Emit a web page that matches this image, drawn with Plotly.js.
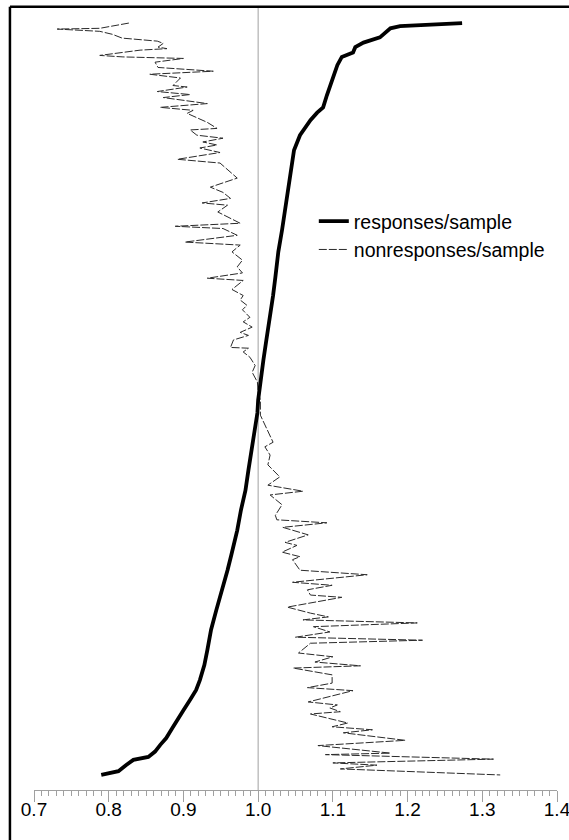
<!DOCTYPE html>
<html>
<head>
<meta charset="utf-8">
<script src="https://cdn.plot.ly/plotly-3.0.1.min.js"></script>
<style>
html,body{margin:0;padding:0;background:#fff;}
#chart{width:569px;height:840px;}
</style>
</head>
<body>
<div id="chart"></div>
<script>
// responses/sample : ratio (x) by cumulative position (y, 0-100)
const respY = [0, 0.5, 1.3, 2.0, 2.4, 3.1, 4.0, 4.9, 6.2, 7.6, 8.6, 10.0, 11.3, 12.6, 14.6, 16.6, 19.3, 21.9, 24.6, 27.2, 29.2, 32.5, 35.2, 37.8, 40.5, 43.6, 45.8, 48.1, 49.8, 52.5, 55.1, 57.8, 60.8, 63.7, 66.1, 69.5, 72.4, 75.0, 77.7, 80.3, 83.0, 85.0, 87.0, 88.0, 88.7, 90.3, 91.4, 92.7, 94.3, 95.4, 96.0, 96.7, 97.3, 98.0, 99.2, 99.5, 99.9];
const respX = [0.790, 0.813, 0.823, 0.833, 0.853, 0.862, 0.869, 0.877, 0.885, 0.893, 0.900, 0.909, 0.917, 0.922, 0.928, 0.932, 0.937, 0.944, 0.952, 0.959, 0.964, 0.972, 0.977, 0.983, 0.987, 0.992, 0.996, 0.999, 1.000, 1.003, 1.007, 1.011, 1.016, 1.020, 1.023, 1.027, 1.032, 1.036, 1.040, 1.044, 1.048, 1.056, 1.070, 1.079, 1.087, 1.092, 1.096, 1.100, 1.106, 1.112, 1.127, 1.130, 1.141, 1.163, 1.177, 1.190, 1.273];

// nonresponses/sample
const nonY = [99.9, 99.2, 99.1, 98.8, 98.4, 97.9, 97.5, 97.2, 96.7, 96.5, 96.3, 95.6, 95.4, 95.2, 94.7, 94.0, 93.5, 93.1, 92.6, 91.6, 91.4, 90.8, 90.4, 90.0, 89.2, 88.7, 88.3, 87.9, 86.7, 85.9, 85.7, 85.0, 84.6, 84.1, 83.7, 83.3, 82.7, 81.8, 81.3, 79.3, 78.1, 77.4, 76.6, 76.0, 75.7, 74.8, 73.3, 72.9, 72.6, 71.7, 70.8, 70.4, 69.5, 68.4, 67.5, 66.7, 66.0, 65.7, 64.5, 63.7, 63.1, 62.4, 61.8, 60.8, 60.2, 59.5, 58.8, 58.4, 57.8, 56.8, 56.7, 56.2, 55.5, 54.4, 53.5, 52.2, 50.9, 49.8, 47.8, 46.5, 44.2, 43.6, 42.5, 41.2, 39.6, 38.5, 37.7, 37.2, 35.9, 34.5, 33.9, 33.5, 32.9, 31.9, 30.9, 30.5, 29.6, 29.0, 28.6, 27.2, 26.6, 25.6, 25.2, 24.6, 23.9, 23.6, 22.3, 21.5, 21.0, 20.6, 20.2, 19.7, 19.0, 18.3, 17.9, 17.5, 16.2, 15.7, 15.0, 14.5, 14.2, 13.3, 12.2, 11.6, 11.2, 9.7, 9.3, 8.9, 8.4, 8.1, 6.9, 6.4, 6.0, 5.6, 4.6, 3.9, 2.9, 2.7, 2.1, 1.6, 1.3, 0.8, 0];
const nonX = [0.827, 0.788, 0.731, 0.788, 0.805, 0.818, 0.865, 0.873, 0.866, 0.878, 0.842, 0.788, 0.819, 0.900, 0.862, 0.866, 0.940, 0.855, 0.896, 0.886, 0.905, 0.865, 0.909, 0.873, 0.932, 0.869, 0.913, 0.905, 0.932, 0.945, 0.909, 0.918, 0.953, 0.926, 0.945, 0.922, 0.949, 0.892, 0.949, 0.972, 0.936, 0.953, 0.963, 0.925, 0.959, 0.946, 0.976, 0.889, 0.953, 0.972, 0.902, 0.976, 0.965, 0.979, 0.972, 0.979, 0.932, 0.980, 0.965, 0.980, 0.976, 0.985, 0.979, 0.989, 0.980, 0.992, 0.976, 0.987, 0.967, 0.963, 0.987, 0.980, 0.989, 0.996, 0.992, 0.999, 1.000, 1.003, 1.003, 1.009, 1.020, 1.009, 1.016, 1.013, 1.029, 1.013, 1.060, 1.016, 1.032, 1.023, 1.025, 1.092, 1.033, 1.067, 1.036, 1.052, 1.032, 1.056, 1.046, 1.056, 1.146, 1.046, 1.099, 1.066, 1.070, 1.112, 1.039, 1.070, 1.094, 1.060, 1.213, 1.074, 1.096, 1.050, 1.220, 1.070, 1.054, 1.100, 1.076, 1.137, 1.047, 1.099, 1.099, 1.066, 1.127, 1.067, 1.106, 1.096, 1.110, 1.070, 1.120, 1.099, 1.153, 1.114, 1.197, 1.080, 1.177, 1.090, 1.315, 1.100, 1.159, 1.110, 1.324];

const seriesNames = ['responses/sample', 'nonresponses/sample'];
const xTickVals = [0.7, 0.8, 0.9, 1.0, 1.1, 1.2, 1.3, 1.4];
const xTickText = ['0.7', '0.8', '0.9', '1.0', '1.1', '1.2', '1.3', '1.4'];
const xRange = [0.7, 1.4];

const traces = [
  {
    x: nonX, y: nonY, type: 'scatter', mode: 'lines', name: seriesNames[1],
    line: {color: '#2a2a2a', width: 1, dash: '8px,2px'},
    legendrank: 2, hoverinfo: 'skip'
  },
  {
    x: respX, y: respY, type: 'scatter', mode: 'lines', name: seriesNames[0],
    line: {color: '#000000', width: 3.8},
    legendrank: 1, hoverinfo: 'skip'
  },
  // carrier for the tick-mark axis (invisible)
  {
    x: respX, y: respY, xaxis: 'x2', yaxis: 'y', type: 'scatter', mode: 'lines',
    line: {width: 0, color: 'rgba(0,0,0,0)'}, opacity: 0, showlegend: false, hoverinfo: 'skip'
  }
];

const layout = {
  width: 569, height: 840,
  margin: {l: 34, r: 12, t: 8, b: 50},
  paper_bgcolor: '#ffffff', plot_bgcolor: '#ffffff',
  font: {family: '"Liberation Sans", Arial, sans-serif', color: '#000'},
  showlegend: true,
  legend: {
    x: 0.535, y: 0.752, xanchor: 'left', yanchor: 'top',
    font: {size: 19.5, family: '"Liberation Sans", Arial, sans-serif', color: '#000'},
    bgcolor: 'rgba(0,0,0,0)', borderwidth: 0, tracegroupgap: 0, itemwidth: 30
  },
  // labels axis
  xaxis: {
    range: xRange, showgrid: false, zeroline: false, showline: false,
    ticks: '', ticklabelstandoff: 6,
    tickvals: xTickVals, ticktext: xTickText,
    ticklabeloverflow: 'allow',
    tickfont: {size: 19, family: '"Liberation Sans", Arial, sans-serif', color: '#000'},
    fixedrange: true
  },
  // tick-mark axis
  xaxis2: {
    range: xRange, overlaying: 'x', anchor: 'y', side: 'bottom',
    showgrid: false, zeroline: false, showticklabels: false,
    showline: true, linecolor: '#a0a0a0', linewidth: 1,
    ticks: 'outside', ticklen: 11, tickcolor: '#a0a0a0', tickwidth: 1,
    tickvals: xTickVals,
    minor: {dtick: 0.01, tick0: 0.7, ticks: 'outside', ticklen: 5, tickcolor: '#a0a0a0', tickwidth: 1, showgrid: false},
    fixedrange: true
  },
  yaxis: {
    range: [-2, 101.9], visible: false, showgrid: false, zeroline: false, fixedrange: true
  },
  shapes: [
    {type: 'line', xref: 'x', yref: 'paper', x0: 1.0, x1: 1.0, y0: 0, y1: 1,
     line: {color: '#a0a0a0', width: 1}, layer: 'below'},
    {type: 'line', xref: 'paper', yref: 'paper', x0: -0.046, x1: 1.05, y0: 1.0015, y1: 1.0015,
     line: {color: '#000', width: 2.5}},
    {type: 'line', xref: 'paper', yref: 'paper', x0: -0.046, x1: -0.046, y0: -0.08, y1: 1.0015,
     line: {color: '#000', width: 2.5}}
  ]
};

Plotly.newPlot('chart', traces, layout, {displayModeBar: false, staticPlot: true});
</script>
</body>
</html>
